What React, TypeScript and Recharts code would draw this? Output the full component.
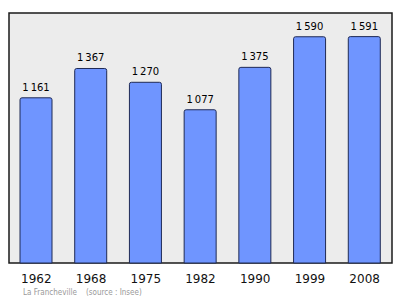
import { BarChart, Bar, XAxis, YAxis, ReferenceArea, LabelList } from "recharts";

const years = ["1962", "1968", "1975", "1982", "1990", "1999", "2008"];
const population = [1161, 1367, 1270, 1077, 1375, 1590, 1591];

const data = years.map((year, i) => ({ year, population: population[i] }));

// French style thousands separator with a narrow space
const fmt = (v: any) => String(v).replace(/\B(?=(\d{3})+(?!\d))/g, "\u202F");

export default function App() {
  return (
    <div style={{ position: "absolute", left: 0, top: 0, width: 400, height: 299, background: "#fff" }}>
      <BarChart
        width={400}
        height={299}
        data={data}
        margin={{ top: 13, right: 5, left: 4, bottom: 0 }}
      >
        <YAxis hide domain={[0, 1757]} />
        <XAxis
          dataKey="year"
          height={36}
          axisLine={false}
          tickLine={false}
          tickMargin={5}
          padding={{ left: 5, right: 3 }}
          tick={{ fontSize: 12, fill: "#111", fontFamily: "DejaVu Sans" }}
          interval={0}
        />
        <ReferenceArea y1={0} y2={1757} fill="#ececec" fillOpacity={1} stroke="#1a1a1a" strokeWidth={1.5} />
        <Bar
          dataKey="population"
          fill="#6f95ff"
          stroke="#1f2a55"
          strokeWidth={1}
          barSize={32}
          radius={[2, 2, 0, 0]}
          isAnimationActive={false}
        >
          <LabelList
            dataKey="population"
            position="top"
            offset={7}
            formatter={fmt}
            style={{ fontSize: 10, fill: "#000", fontFamily: "DejaVu Sans" }}
          />
        </Bar>
      </BarChart>
      <div
        style={{
          position: "absolute",
          left: 23,
          top: 288,
          fontSize: 8,
          color: "#999",
          fontFamily: "DejaVu Sans Condensed, DejaVu Sans",
          whiteSpace: "pre",
        }}
      >
        {"La Francheville    (source : Insee)"}
      </div>
    </div>
  );
}
